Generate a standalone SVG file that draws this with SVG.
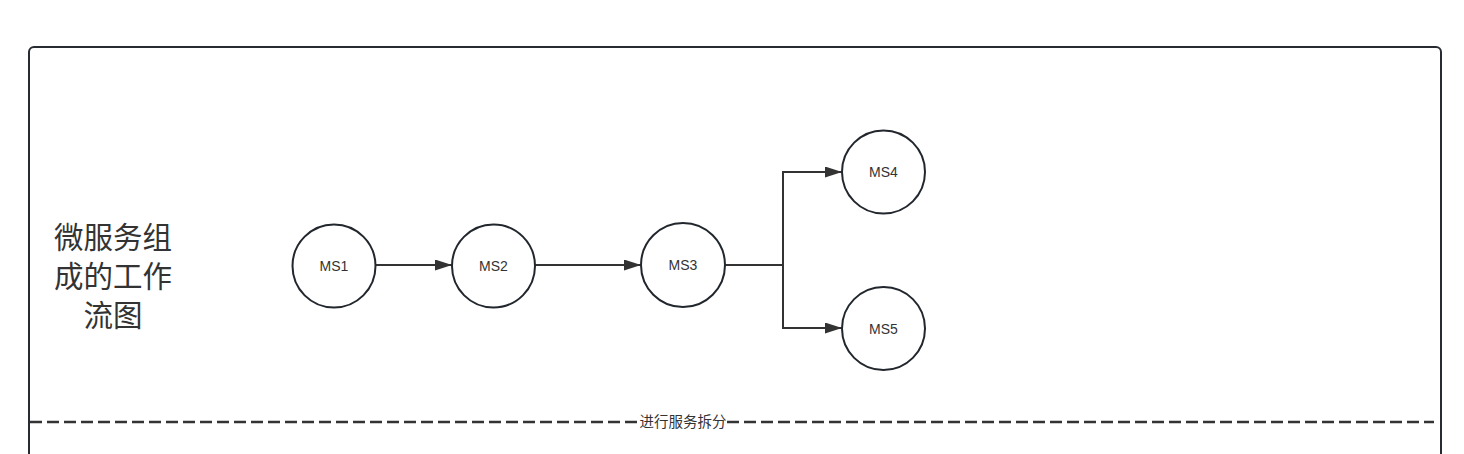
<svg xmlns="http://www.w3.org/2000/svg" width="1464" height="454" viewBox="0 0 1464 454">
<style>
.node circle{fill:#fff;stroke:#22272e;stroke-width:2}
.node text{font-family:"Liberation Sans",Arial,sans-serif;font-size:14px;fill:#333;text-anchor:middle;dominant-baseline:central}
.conn path{fill:none;stroke:#333;stroke-width:2}
.cjk{font-family:"Noto Sans CJK SC","Noto Sans",sans-serif;fill:#333;text-anchor:middle}
</style>
<defs>
<marker id="arr" viewBox="0 0 17 11" refX="17" refY="5.5" markerWidth="17" markerHeight="11" markerUnits="userSpaceOnUse" orient="auto">
<path d="M0,0 L17,5.5 L0,11 Z" fill="#333"/>
</marker>
</defs>
<rect width="1464" height="454" fill="#fff"/>
<g id="container">
<rect x="29" y="47" width="1412" height="430" rx="5" fill="none" stroke="#272c33" stroke-width="2"/>
</g>
<g id="title">
<text class="cjk" font-size="29.5"><tspan x="113" y="248">微服务组</tspan><tspan x="113" y="287">成的工作</tspan><tspan x="113" y="326">流图</tspan></text>
</g>
<g id="divider">
<path d="M30,422 H1434" stroke="#333" stroke-width="2.5" stroke-dasharray="12,5" fill="none"/>
<rect x="639" y="412" width="88" height="20" fill="#fff"/>
<text class="cjk" font-size="14.5" x="683" y="427">进行服务拆分</text>
</g>
<g class="conn" id="connectors">
<path d="M376,265 H452" marker-end="url(#arr)"/>
<path d="M535,265 H641" marker-end="url(#arr)"/>
<path d="M725,265 H783"/>
<path d="M783,265 V172 H842" marker-end="url(#arr)"/>
<path d="M783,265 V328 H842" marker-end="url(#arr)"/>
</g>
<g class="node" id="MS1"><circle cx="334" cy="266" r="41.5"/><text x="334" y="266">MS1</text></g>
<g class="node" id="MS2"><circle cx="493.5" cy="266" r="41.5"/><text x="493.5" y="266">MS2</text></g>
<g class="node" id="MS3"><circle cx="683" cy="265" r="42"/><text x="683" y="265">MS3</text></g>
<g class="node" id="MS4"><circle cx="883.5" cy="172" r="41.5"/><text x="883.5" y="172">MS4</text></g>
<g class="node" id="MS5"><circle cx="883.5" cy="328.5" r="41.5"/><text x="883.5" y="328.5">MS5</text></g>
</svg>
